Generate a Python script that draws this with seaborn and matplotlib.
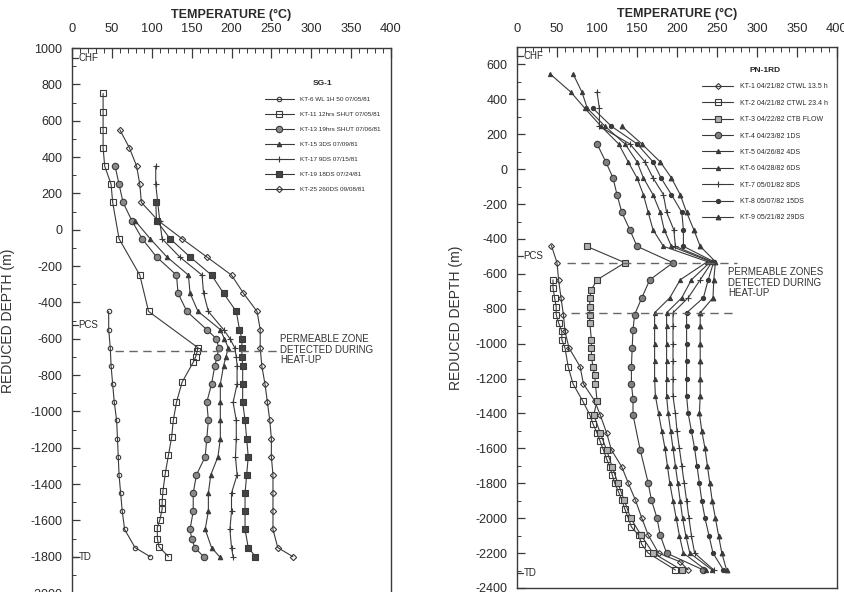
import matplotlib
matplotlib.use("Agg")
import matplotlib.pyplot as plt
from matplotlib.ticker import MultipleLocator
import seaborn as sns

sns.set_style("ticks")
plt.rcParams["font.family"] = ["Liberation Sans", "DejaVu Sans"]
plt.rcParams["axes.unicode_minus"] = False

# ---------------- SG-1 (left panel) ----------------
sg_labels = [
    "KT-6 WL 1H 50 07/05/81",
    "KT-11 12hrs SHUT 07/05/81",
    "KT-13 19hrs SHUT 07/06/81",
    "KT-15 3DS 07/09/81",
    "KT-17 9DS 07/15/81",
    "KT-19 18DS 07/24/81",
    "KT-25 260DS 09/08/81",
]
sg1_depth = [-450, -550, -650, -750, -850, -950, -1050, -1150, -1250, -1350, -1450, -1550, -1650, -1750, -1800]
sg1_temp = [46, 46, 48, 49, 51, 53, 56, 57, 58, 59, 61, 63, 66, 79, 98]

sg2_depth = [750, 650, 550, 450, 350, 250, 150, -50, -250, -450, -650, -670, -700, -730, -840, -950, -1050,
             -1140, -1240, -1340, -1440, -1500, -1540, -1600, -1640, -1700, -1745, -1800]
sg2_temp = [39, 39, 39, 39, 41, 49, 51, 59, 85, 96, 158, 157, 155, 152, 138, 131, 127,
            125, 121, 117, 114, 113, 113, 110, 107, 107, 109, 121]

sg3_depth = [350, 250, 150, 50, -50, -150, -250, -350, -450, -550, -600, -650, -700, -750, -850, -950, -1050,
             -1150, -1250, -1350, -1450, -1550, -1650, -1700, -1750, -1800]
sg3_temp = [54, 59, 64, 75, 88, 106, 131, 133, 144, 169, 181, 184, 182, 179, 175, 169, 171,
            169, 167, 156, 152, 152, 148, 150, 154, 165]

sg4_depth = [50, -50, -150, -250, -350, -450, -550, -600, -650, -700, -750, -850, -950, -1050, -1150,
             -1250, -1350, -1450, -1550, -1650, -1750, -1800]
sg4_temp = [79, 98, 119, 146, 148, 158, 186, 191, 196, 193, 190, 186, 186, 186, 186,
            183, 174, 171, 171, 167, 175, 185]

sg5_depth = [350, 250, 50, -50, -150, -250, -350, -450, -550, -600, -650, -700, -750, -850, -950, -1050,
             -1150, -1250, -1350, -1450, -1550, -1650, -1750, -1800]
sg5_temp = [105, 105, 110, 113, 135, 163, 165, 171, 190, 198, 204, 206, 207, 207, 202, 206,
            206, 205, 207, 200, 200, 198, 200, 202]

sg6_depth = [150, 50, -50, -150, -250, -350, -450, -550, -600, -650, -700, -750, -850, -950, -1050, -1150,
             -1250, -1350, -1450, -1550, -1650, -1750, -1800]
sg6_temp = [105, 106, 123, 148, 175, 190, 206, 210, 213, 213, 213, 214, 214, 214, 217, 219,
            221, 219, 217, 217, 217, 221, 230]

sg7_depth = [550, 450, 350, 250, 150, 50, -50, -150, -250, -350, -450, -550, -650, -750, -850, -950, -1050,
             -1150, -1250, -1350, -1450, -1550, -1650, -1750, -1800]
sg7_temp = [60, 72, 81, 85, 87, 108, 138, 169, 200, 215, 232, 236, 236, 238, 242, 245, 248,
            250, 250, 252, 252, 252, 252, 258, 277]

# ---------------- PN-1RD (right panel) ----------------
pn_labels = [
    "KT-1 04/21/82 CTWL 13.5 h",
    "KT-2 04/21/82 CTWL 23.4 h",
    "KT-3 04/22/82 CTB FLOW",
    "KT-4 04/23/82 1DS",
    "KT-5 04/26/82 4DS",
    "KT-6 04/28/82 6DS",
    "KT-7 05/01/82 8DS",
    "KT-8 05/07/82 15DS",
    "KT-9 05/21/82 29DS",
]
pn1_depth = [-438, -536, -634, -737, -834, -930, -1024, -1133, -1230, -1327, -1408, -1511, -1609, -1706,
             -1798, -1896, -1999, -2097, -2200, -2250, -2297]
pn1_temp = [43, 50, 52, 55, 58, 60, 65, 79, 83, 97, 104, 112, 118, 131,
            139, 148, 156, 164, 177, 204, 214]

pn2_depth = [-634, -680, -737, -788, -834, -880, -930, -977, -1024, -1133, -1230, -1327, -1408, -1460, -1511,
             -1560, -1609, -1660, -1706, -1750, -1798, -1850, -1896, -1950, -1999, -2050, -2097, -2150,
             -2200, -2297]
pn2_temp = [45, 45, 47, 49, 49, 52, 56, 56, 60, 64, 70, 82, 91, 95, 100,
            104, 108, 112, 116, 119, 122, 127, 131, 135, 139, 143, 152, 156,
            164, 198]

pn3_depth = [-442, -536, -634, -691, -737, -788, -834, -880, -977, -1024, -1075, -1133, -1180, -1230, -1327,
             -1408, -1511, -1609, -1706, -1798, -1896, -1999, -2097, -2200, -2297]
pn3_temp = [87, 135, 100, 93, 91, 91, 91, 91, 93, 93, 93, 95, 97, 98, 100,
            96, 104, 112, 119, 126, 134, 142, 155, 170, 206]

pn4_depth = [145, 42, -50, -146, -247, -347, -442, -536, -634, -737, -834, -920, -1024, -1133, -1230, -1315,
             -1408, -1609, -1798, -1896, -1999, -2097, -2200, -2297]
pn4_temp = [100, 111, 120, 125, 131, 141, 150, 195, 166, 156, 147, 145, 144, 143, 143, 145,
            145, 154, 164, 168, 175, 179, 187, 233]

pn5_depth = [547, 443, 348, 246, 145, 42, -50, -146, -247, -347, -442, -530, -634, -737, -823, -900, -1000,
             -1100, -1200, -1300, -1400, -1500, -1600, -1700, -1800, -1900, -2000, -2100, -2200, -2297]
pn5_temp = [41, 67, 85, 105, 127, 139, 150, 158, 164, 170, 183, 238, 204, 191, 172, 172, 172,
            172, 172, 173, 177, 181, 185, 188, 191, 195, 199, 203, 208, 236]

pn6_depth = [547, 443, 348, 246, 145, 42, -50, -146, -247, -347, -442, -530, -634, -737, -823, -900, -1000,
             -1100, -1200, -1300, -1400, -1500, -1600, -1700, -1800, -1900, -2000, -2100, -2200, -2297]
pn6_temp = [70, 81, 88, 110, 135, 150, 158, 170, 179, 184, 193, 242, 218, 206, 187, 187, 187,
            187, 187, 187, 189, 192, 195, 198, 201, 204, 207, 211, 216, 244]

pn7_depth = [443, 348, 246, 145, 42, -50, -146, -247, -347, -442, -530, -634, -737, -823, -900, -1000,
             -1100, -1200, -1300, -1400, -1500, -1600, -1700, -1800, -1900, -2000, -2100, -2200, -2297]
pn7_temp = [100, 103, 103, 141, 160, 170, 183, 187, 196, 198, 244, 229, 214, 195, 195, 195,
            195, 195, 195, 198, 200, 203, 206, 209, 212, 215, 218, 222, 246]

pn8_depth = [348, 246, 145, 42, -50, -146, -247, -347, -442, -530, -634, -737, -823, -900, -1000,
             -1100, -1200, -1300, -1400, -1500, -1600, -1700, -1800, -1900, -2000, -2100, -2200, -2297]
pn8_temp = [95, 118, 150, 170, 180, 193, 206, 208, 208, 246, 239, 233, 212, 212, 212,
            212, 212, 212, 214, 218, 222, 225, 228, 231, 235, 240, 245, 258]

pn9_depth = [246, 145, 42, -50, -146, -247, -347, -442, -530, -634, -737, -823, -900, -1000,
             -1100, -1200, -1300, -1400, -1500, -1600, -1700, -1800, -1900, -2000, -2100, -2200, -2297]
pn9_temp = [131, 156, 179, 193, 204, 212, 221, 229, 248, 246, 245, 229, 229, 229,
            229, 229, 229, 228, 231, 235, 238, 241, 244, 248, 252, 256, 262]

# ---------------- styling ----------------
LC = "#3a3a3a"
sg_styles = [
    dict(marker="o", mfc="none", ms=3.2),
    dict(marker="s", mfc="none", ms=4.5),
    dict(marker="o", mfc="#8a8a8a", ms=4.6),
    dict(marker="^", mfc=LC, ms=3.2),
    dict(marker="+", mfc=LC, ms=4.5),
    dict(marker="s", mfc="#444444", ms=4.3),
    dict(marker="D", mfc="none", ms=3.2),
]
pn_styles = [
    dict(marker="D", mfc="none", ms=3.0),
    dict(marker="s", mfc="none", ms=4.3),
    dict(marker="s", mfc="#b0b0b0", ms=4.3),
    dict(marker="o", mfc="#808080", ms=4.6),
    dict(marker="^", mfc=LC, ms=3.0),
    dict(marker="^", mfc=LC, ms=3.0),
    dict(marker="+", mfc=LC, ms=4.5),
    dict(marker="o", mfc=LC, ms=3.0),
    dict(marker="^", mfc=LC, ms=3.4),
]

W, H = 844, 592
fig = plt.figure(figsize=(W / 100, H / 100), dpi=100)
fig.patch.set_facecolor("white")

def px_axes(x0, x1, ytop, ybot):
    return fig.add_axes([x0 / W, 1 - ybot / H, (x1 - x0) / W, (ybot - ytop) / H])

axL = px_axes(72, 391, 48, 593)
axR = px_axes(517, 837, 47, 588)

def draw(ax, depths, temps, labels, styles):
    handles = []
    for d, t, lab, st in zip(depths, temps, labels, styles):
        sns.lineplot(x=t, y=d, sort=False, estimator=None, ax=ax, color=LC, lw=0.8,
                     marker=st["marker"], markerfacecolor=st["mfc"], markeredgecolor=LC,
                     markeredgewidth=0.8, markersize=st["ms"], label=lab, legend=False)
        handles.append(ax.lines[-1])
    return handles

hL = draw(axL,
          [sg1_depth, sg2_depth, sg3_depth, sg4_depth, sg5_depth, sg6_depth, sg7_depth],
          [sg1_temp, sg2_temp, sg3_temp, sg4_temp, sg5_temp, sg6_temp, sg7_temp],
          sg_labels, sg_styles)
hR = draw(axR,
          [pn1_depth, pn2_depth, pn3_depth, pn4_depth, pn5_depth, pn6_depth, pn7_depth, pn8_depth, pn9_depth],
          [pn1_temp, pn2_temp, pn3_temp, pn4_temp, pn5_temp, pn6_temp, pn7_temp, pn8_temp, pn9_temp],
          pn_labels, pn_styles)

TXT = "#2a2a2a"
for ax, ylim, ylab_x in [(axL, (-2000, 1000), -0.178), (axR, (-2400, 700), -0.168)]:
    ax.set_xlim(0, 400)
    ax.set_ylim(*ylim)
    ax.xaxis.tick_top()
    ax.xaxis.set_label_position("top")
    ax.xaxis.set_major_locator(MultipleLocator(50))
    ax.xaxis.set_minor_locator(MultipleLocator(10))
    ax.yaxis.set_major_locator(MultipleLocator(200))
    ax.yaxis.set_minor_locator(MultipleLocator(100))
    ax.tick_params(axis="x", which="both", direction="in", top=True, bottom=False,
                   labeltop=True, labelbottom=False, colors=LC, labelcolor=TXT)
    ax.tick_params(axis="x", which="major", length=7, width=0.9, labelsize=9.3, pad=9)
    ax.tick_params(axis="x", which="minor", length=3.5, width=0.7)
    ax.tick_params(axis="y", which="both", direction="in", left=True, right=False,
                   colors=LC, labelcolor=TXT)
    ax.tick_params(axis="y", which="major", length=6, width=0.9, labelsize=9, pad=7)
    ax.tick_params(axis="y", which="minor", length=3, width=0.7)
    for s in ax.spines.values():
        s.set_color(LC)
        s.set_linewidth(1.0)
    ax.set_xlabel("TEMPERATURE (°C)", fontsize=9, fontweight="bold", color=TXT, labelpad=4)
    ax.set_ylabel("REDUCED DEPTH (m)", fontsize=10, color="#333333")
    ax.yaxis.set_label_coords(ylab_x, 0.5)

def mark(ax, depth, text):
    tr = ax.get_yaxis_transform()
    ax.plot([0, 0.018], [depth, depth], color=LC, lw=0.9, transform=tr, clip_on=False)
    ax.text(0.02, depth, text, transform=tr, fontsize=7, color=TXT, va="center", ha="left")

mark(axL, 945, "CHF")
mark(axL, -525, "PCS")
mark(axL, -1800, "TD")
mark(axR, 646, "CHF")
mark(axR, -500, "PCS")
mark(axR, -2314, "TD")

dash = dict(color="#666666", lw=1.0, ls=(0, (6, 4)))
axL.plot([54, 258], [-667, -667], **dash)
axL.text(261, -661, "PERMEABLE ZONE\nDETECTED DURING\nHEAT-UP", fontsize=7, color="#333333",
         va="center", ha="left", linespacing=1.05)
axR.plot([62, 275], [-536, -536], **dash)
axR.plot([68, 275], [-823, -823], **dash)
axR.text(264, -651, "PERMEABLE ZONES\nDETECTED DURING\nHEAT-UP", fontsize=7, color="#333333",
         va="center", ha="left", linespacing=1.05)

legkw = dict(frameon=False, handlelength=4.5, handletextpad=0.9,
             borderpad=0, borderaxespad=0, bbox_transform=fig.transFigure,
             loc="upper left", title_fontproperties={"weight": "bold", "size": 6})
legL = axL.legend(handles=hL, labels=sg_labels, title="SG-1", fontsize=4.6, labelspacing=1.5,
                  bbox_to_anchor=(265 / W, 1 - 80 / H), **legkw)
legR = axR.legend(handles=hR, labels=pn_labels, title="PN-1RD", fontsize=5.0, labelspacing=1.35,
                  bbox_to_anchor=(702 / W, 1 - 67 / H), **legkw)
for lg in (legL, legR):
    for t in lg.get_texts():
        t.set_color(TXT)

fig.savefig("out.png", dpi=100, facecolor="white")
